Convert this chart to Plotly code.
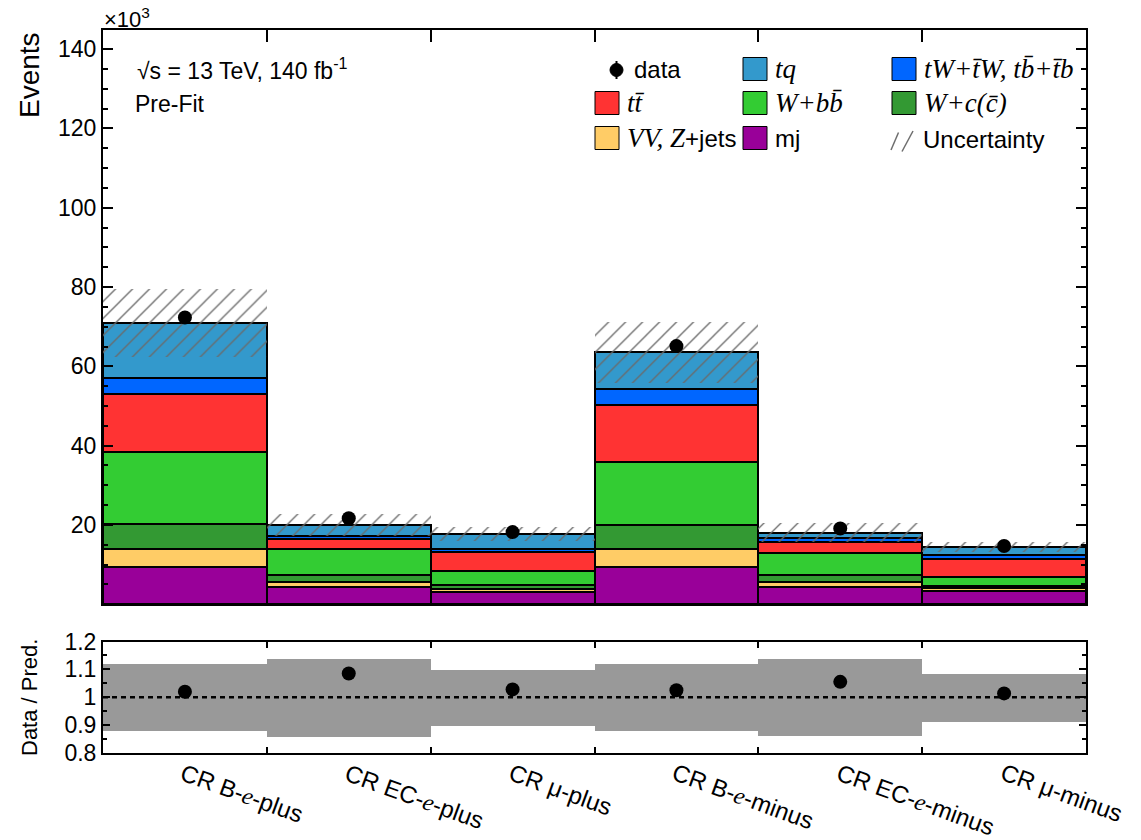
import numpy as np
import plotly.graph_objects as go

# ---------------- data (values in units of 10^3 events) ----------------
E = "<span style='font-family:Liberation Serif'><i>e</i></span>"
categories = [f"CR B-{E}-plus", f"CR EC-{E}-plus", "CR \u03bc-plus",
              f"CR B-{E}-minus", f"CR EC-{E}-minus", "CR \u03bc-minus"]

mj       = [9.5, 4.3, 3.2, 9.3, 4.3, 3.4]
vv_zjets = [4.5, 1.4, 0.6, 4.6, 1.4, 0.6]
w_cc     = [6.2, 1.8, 1.1, 6.1, 1.8, 0.6]
w_bb     = [18.3, 6.4, 3.6, 15.9, 5.5, 2.2]
ttbar    = [14.5, 2.5, 4.7, 14.4, 2.6, 4.5]
tw_tb    = [4.0, 0.8, 0.7, 4.0, 1.1, 1.1]
tq       = [13.9, 2.8, 3.8, 9.2, 1.4, 2.1]

data     = [72.3, 21.7, 18.2, 65.1, 19.1, 14.7]
rel_unc  = [0.12, 0.14, 0.10, 0.12, 0.138, 0.087]

y_ticks  = [20, 40, 60, 80, 100, 120, 140]
r_ticks  = [0.8, 0.9, 1.0, 1.1, 1.2]
r_labels = ["0.8", "0.9", "1", "1.1", "1.2"]

colors = {
    "mj": "#990099", "vv": "#FFCC66", "wcc": "#339933", "wbb": "#33CC33",
    "tt": "#FF3333", "tw": "#0066FF", "tq": "#3399CC",
}
stack = [(mj, colors["mj"]), (vv_zjets, colors["vv"]), (w_cc, colors["wcc"]),
         (w_bb, colors["wbb"]), (ttbar, colors["tt"]), (tw_tb, colors["tw"]),
         (tq, colors["tq"])]

# ---------------- geometry helpers (pixels -> paper) ----------------
W, H = 1141, 840
L, R, T, B = 103, 55, 30, 87
PW, PH = W - L - R, H - T - B


def px(x):
    return (x - L) / PW


def py(y):
    return (H - B - y) / PH


main_dom = [py(604.3), 1.0]
ratio_dom = [0.0, py(641.5)]

n = len(categories)
xc = np.arange(n) + 0.5
FONT = "Liberation Sans"

fig = go.Figure()

base = np.zeros(n)
for vals, col in stack:
    v = np.array(vals, dtype=float)
    fig.add_trace(go.Bar(x=xc, y=v, base=base.copy(), width=1.0,
                         marker=dict(color=col, line=dict(color="black", width=2)),
                         xaxis="x", yaxis="y", showlegend=False, hoverinfo="skip"))
    base = base + v
total = base
unc = np.array(rel_unc)

# hatched uncertainty
fig.add_trace(go.Bar(x=xc, y=2 * unc * total, base=total * (1 - unc), width=1.0,
                     marker=dict(color="rgba(0,0,0,0)", line=dict(width=0),
                                 pattern=dict(shape="/", fgcolor="#6a6a6a",
                                              bgcolor="rgba(0,0,0,0)", size=12,
                                              solidity=0.11, fillmode="replace")),
                     xaxis="x", yaxis="y", showlegend=False, hoverinfo="skip"))

# data points
fig.add_trace(go.Scatter(x=xc, y=data, mode="markers",
                         marker=dict(color="black", size=14),
                         xaxis="x", yaxis="y", showlegend=False))

# ratio band
fig.add_trace(go.Bar(x=xc, y=2 * unc, base=1 - unc, width=1.0,
                     marker=dict(color="#999999", line=dict(width=0)),
                     xaxis="x2", yaxis="y2", showlegend=False, hoverinfo="skip"))
fig.add_trace(go.Scatter(x=[0, n], y=[1, 1], mode="lines",
                         line=dict(color="black", width=2.5, dash="5px,4px"),
                         xaxis="x2", yaxis="y2", showlegend=False))
ratio = np.array(data) / total
fig.add_trace(go.Scatter(x=xc, y=ratio, mode="markers",
                         marker=dict(color="black", size=14),
                         xaxis="x2", yaxis="y2", showlegend=False))

axis_common = dict(showline=True, linecolor="black", linewidth=2, mirror="ticks",
                   ticks="inside", tickcolor="black", showgrid=False, zeroline=False)

fig.update_layout(
    width=W, height=H, barmode="overlay", bargap=0,
    margin=dict(l=L, r=R, t=T, b=B, pad=0),
    paper_bgcolor="white", plot_bgcolor="white",
    font=dict(family=FONT, color="black", size=23),
    xaxis=dict(domain=[0, 1], range=[0, n], anchor="y", tickvals=list(range(n + 1)),
               showticklabels=False, ticklen=12, tickwidth=2, **axis_common),
    yaxis=dict(domain=main_dom, range=[0, 144.8], anchor="x", tickvals=y_ticks,
               ticklen=10, tickwidth=2, tickfont=dict(size=23),
               minor=dict(dtick=5, tick0=0, ticklen=5, tickwidth=2, ticks="inside",
                          tickcolor="black"),
               **axis_common),
    xaxis2=dict(domain=[0, 1], range=[0, n], anchor="y2", tickvals=list(range(n + 1)),
                showticklabels=False, ticklen=6, tickwidth=2, **axis_common),
    yaxis2=dict(domain=ratio_dom, range=[0.8, 1.2], anchor="x2", tickvals=r_ticks,
                ticktext=r_labels, ticklen=7, tickwidth=2, tickfont=dict(size=23),
                minor=dict(tickvals=[0.85, 0.95, 1.05, 1.15], ticklen=4, tickwidth=2,
                           ticks="inside", tickcolor="black"),
                **axis_common),
)

ann = []
shapes = []

# axis titles
ann.append(dict(text="Events", x=px(29), y=1.0, xref="paper", yref="paper",
                xanchor="center", yanchor="top", textangle=-90, showarrow=False,
                font=dict(size=28)))
ann.append(dict(text="Data / Pred.", x=px(29), y=py(698), xref="paper", yref="paper",
                xanchor="center", yanchor="middle", textangle=-90, showarrow=False,
                font=dict(size=22)))
ann.append(dict(text="\u00d710<sup>3</sup>", x=px(102), y=py(18), xref="paper", yref="paper",
                xanchor="left", yanchor="middle", showarrow=False, font=dict(size=22)))

# category labels
for i, lab in enumerate(categories):
    ann.append(dict(text=lab, x=xc[i] - 0.06, y=py(756), xref="x2", yref="paper",
                    xanchor="left", yanchor="top", textangle=20, showarrow=False,
                    font=dict(size=24)))

# info text
ann.append(dict(text="\u221as = 13 TeV, 140 fb<sup>-1</sup>", x=px(135), y=py(69),
                xref="paper", yref="paper", xanchor="left", yanchor="middle",
                showarrow=False, font=dict(size=23)))
ann.append(dict(text="Pre-Fit", x=px(133), y=py(104), xref="paper", yref="paper",
                xanchor="left", yanchor="middle", showarrow=False, font=dict(size=23)))


def serif(s):
    return f"<span style='font-family:Liberation Serif;font-size:27px'><i>{s}</i></span>"


ov = "\u0304"
legend_items = [
    # (box_x, text_x, y_center, color, label)
    (743, 773, 69, colors["tq"], serif("tq")),
    (892, 922, 69, colors["tw"], serif(f"tW+t{ov}W, tb{ov}+t{ov}b")),
    (595, 625, 103, colors["tt"], serif(f"tt{ov}")),
    (743, 773, 103, colors["wbb"], serif(f"W+bb{ov}")),
    (892, 922, 103, colors["wcc"], serif(f"W+c(c{ov})")),
    (595, 625, 138, colors["vv"], serif("VV, Z") + "+jets"),
    (743, 773, 138, colors["mj"], "mj"),
]
for bx, tx, yc, col, lab in legend_items:
    shapes.append(dict(type="rect", xref="paper", yref="paper",
                       x0=px(bx), x1=px(bx + 24), y0=py(yc + 11.5), y1=py(yc - 11.5),
                       fillcolor=col, line=dict(color="black", width=1)))
    ann.append(dict(text=lab, x=px(tx), y=py(yc), xref="paper", yref="paper",
                    xanchor="left", yanchor="middle", showarrow=False,
                    font=dict(size=24)))

# data legend entry
shapes.append(dict(type="line", xref="paper", yref="paper", x0=px(616.5), x1=px(616.5),
                   y0=py(61), y1=py(79), line=dict(color="black", width=2)))
shapes.append(dict(type="circle", xref="paper", yref="paper", x0=px(610), x1=px(623),
                   y0=py(76.5), y1=py(63.5), fillcolor="black", line=dict(color="black", width=1)))
ann.append(dict(text="data", x=px(632), y=py(69), xref="paper", yref="paper",
                xanchor="left", yanchor="middle", showarrow=False, font=dict(size=24)))

# uncertainty legend entry
for (x0, y0, x1, y1) in [(891, 150, 898.5, 132.5), (902, 151.5, 913, 131)]:
    shapes.append(dict(type="line", xref="paper", yref="paper", x0=px(x0), y0=py(y0),
                       x1=px(x1), y1=py(y1), line=dict(color="#6e6e6e", width=1.5)))
ann.append(dict(text="Uncertainty", x=px(921), y=py(139), xref="paper", yref="paper",
                xanchor="left", yanchor="middle", showarrow=False, font=dict(size=24)))

fig.update_layout(annotations=ann, shapes=shapes)
fig.write_html("out.html")
